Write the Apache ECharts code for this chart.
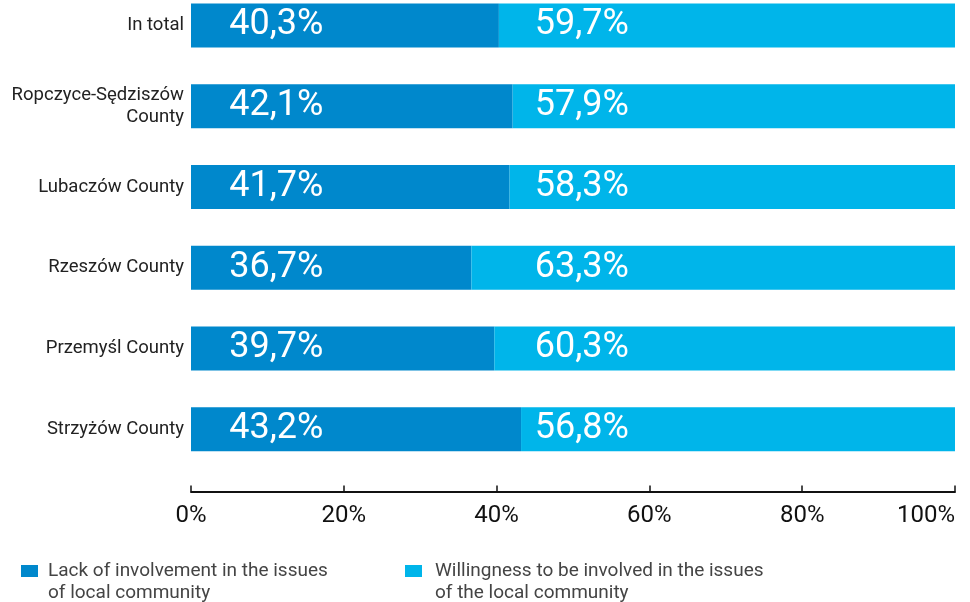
<!DOCTYPE html>
<html>
<head>
<meta charset="utf-8">
<script src="https://cdn.jsdelivr.net/npm/echarts@6/dist/echarts.min.js"></script>
<style>
  html, body { margin: 0; padding: 0; background: #fff; overflow: hidden; }
  /* chart is a bit taller and shifted up: the first band starts above the window edge */
  #chart { width: 970px; height: 617px; margin-top: -15px; }
</style>
</head>
<body>
<div id="chart"></div>
<script>
// данные
const categories = ['In total', 'Ropczyce-Sędziszów\nCounty', 'Lubaczów County', 'Rzeszów County', 'Przemyśl County', 'Strzyżów County'];
const lackValues = [40.3, 42.1, 41.7, 36.7, 39.7, 43.2];
const willingValues = [59.7, 57.9, 58.3, 63.3, 60.3, 56.8];
const tickValues = [0, 20, 40, 60, 80, 100];
const lackName = 'Lack of involvement in the issues\nof local community';
const willingName = 'Willingness to be involved in the issues\nof the local community';

const darkBlue = '#0088cc';
const lightBlue = '#00b5ea';

const chart = echarts.init(document.getElementById('chart'), null, { renderer: 'canvas' });

const fmt = v => v.toFixed(1).replace('.', ',') + '%';

const barLabel = {
    show: true,
    position: 'insideLeft',
    distance: 0,
    color: '#fff',
    fontFamily: 'Roboto',
    fontSize: 36,
    formatter: p => fmt(p.value)
};

// иконка: квадрат в верхней части, чтобы стоял напротив первой строки
const legendIcon = 'path://M0,0H17V12H0Z M0,34H0.01V33.99Z';

function legendText(padLeft) {
    return {
        color: '#444',
        fontFamily: 'Roboto',
        fontSize: 19,
        lineHeight: 22,
        padding: [0, 0, 0, padLeft]
    };
}

chart.setOption({
    animation: false,
    grid: { left: 191, right: 15, top: 0, bottom: 132.5, containLabel: false },
    xAxis: {
        type: 'value',
        min: 0,
        max: 100,
        interval: 20,
        offset: 22,
        axisLine: { show: true, lineStyle: { color: '#111', width: 2 } },
        axisTick: { show: true, inside: true, length: 6, lineStyle: { color: '#111', width: 1.5 } },
        splitLine: { show: false },
        axisLabel: {
            color: '#111',
            fontFamily: 'Roboto',
            fontSize: 24,
            margin: 12,
            alignMaxLabel: 'right',
            formatter: v => tickValues.includes(v) ? v + '%' : ''
        }
    },
    yAxis: {
        type: 'category',
        inverse: true,
        data: categories,
        axisLine: { show: false },
        axisTick: { show: false },
        axisLabel: {
            color: '#222',
            fontFamily: 'Roboto',
            fontSize: 18.5,
            lineHeight: 22,
            margin: 7
        }
    },
    legend: [
        {
            left: 16,
            top: 570,
            data: [lackName],
            itemWidth: 17,
            itemHeight: 34,
            icon: legendIcon,
            textStyle: legendText(5)
        },
        {
            left: 400,
            top: 570,
            data: [willingName],
            itemWidth: 17,
            itemHeight: 34,
            icon: legendIcon,
            textStyle: legendText(8)
        }
    ],
    series: [
        {
            name: lackName,
            type: 'bar',
            stack: 'total',
            barWidth: 44,
            itemStyle: { color: darkBlue },
            label: barLabel,
            data: lackValues
        },
        {
            name: willingName,
            type: 'bar',
            stack: 'total',
            barWidth: 44,
            itemStyle: { color: lightBlue },
            label: barLabel,
            data: willingValues
        }
    ]
});

// подписи стоят на фиксированных позициях: 5% и 45% шкалы
const px = v => chart.convertToPixel({ xAxisIndex: 0 }, v);
chart.setOption({
    series: [
        {
            data: lackValues.map(v => ({ value: v, label: { offset: [px(5) - px(0), 0] } }))
        },
        {
            data: willingValues.map((v, i) => ({ value: v, label: { offset: [px(45) - px(lackValues[i]), 0] } }))
        }
    ]
});
</script>
</body>
</html>
